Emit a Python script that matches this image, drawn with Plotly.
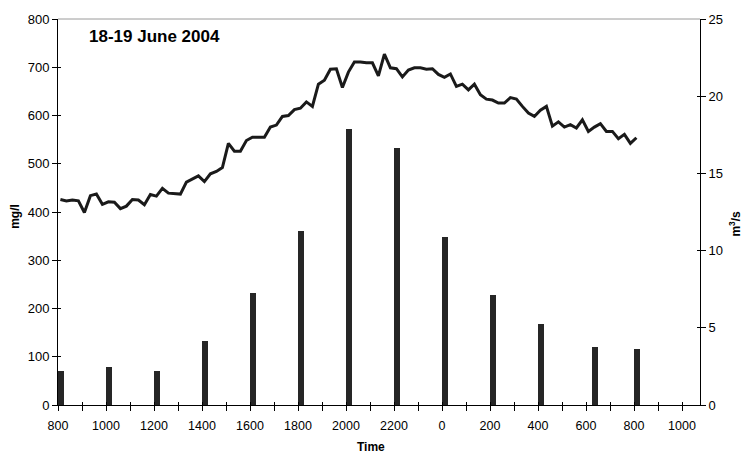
import plotly.graph_objects as go

# ---------------- data ----------------
# x-axis tick positions (hours since midnight of 18 June) and their labels
tick_hours = [8, 10, 12, 14, 16, 18, 20, 22, 24, 26, 28, 30, 32, 34]
tick_labels = ["800", "1000", "1200", "1400", "1600", "1800", "2000", "2200",
               "0", "200", "400", "600", "800", "1000"]

# sampled concentration (mg/l) - bars
sample_hours = [8.125, 10.125, 12.125, 14.125, 16.125, 18.125, 20.125, 22.125,
                24.125, 26.125, 28.125, 30.375, 32.125]
conc_mgl = [70, 78, 70, 133, 232, 360, 571, 533, 349, 228, 167, 120, 117]

# discharge (m3/s), every 15 minutes starting 08:06
flow_start_hour = 8.1
flow_step_hour = 0.25
flow_m3s = [13.31, 13.22, 13.28, 13.22, 12.47, 13.56, 13.66, 13.00, 13.16, 13.13,
            12.72, 12.88, 13.31, 13.28, 12.97, 13.63, 13.53, 14.03, 13.72, 13.69,
            13.66, 14.44, 14.63, 14.84, 14.47, 14.97, 15.13, 15.38, 16.94, 16.44,
            16.44, 17.13, 17.34, 17.34, 17.34, 18.00, 18.13, 18.69, 18.75, 19.13,
            19.22, 19.63, 19.34, 20.78, 21.03, 21.75, 21.78, 20.56, 21.56, 22.22,
            22.22, 22.16, 22.16, 21.31, 22.72, 21.84, 21.78, 21.25, 21.69, 21.84,
            21.84, 21.75, 21.78, 21.41, 21.22, 21.44, 20.63, 20.78, 20.41, 20.78,
            20.09, 19.81, 19.75, 19.56, 19.56, 19.91, 19.81, 19.34, 18.91, 18.69,
            19.09, 19.34, 18.06, 18.34, 18.00, 18.16, 17.94, 18.47, 17.72, 18.00,
            18.22, 17.72, 17.72, 17.25, 17.53, 16.94, 17.31]
flow_hours = [flow_start_hour + flow_step_hour * i for i in range(len(flow_m3s))]

x_range = [8, 34.75]
left_range = [0, 800]
right_range = [0, 25]

FONT = "Liberation Sans, Arial, Helvetica, sans-serif"

fig = go.Figure()

fig.add_trace(go.Bar(
    x=sample_hours, y=conc_mgl, width=0.26,
    marker=dict(color="#262626", line=dict(width=0)),
    xaxis="x", yaxis="y", showlegend=False, hoverinfo="x+y"))

fig.add_trace(go.Scatter(
    x=flow_hours, y=flow_m3s, mode="lines",
    line=dict(color="#1a1a1a", width=3),
    xaxis="x", yaxis="y2", showlegend=False))

# invisible helper traces so the overlay axes (inner half of cross ticks) render
fig.add_trace(go.Scatter(x=[None], y=[None], xaxis="x2", yaxis="y",
                         showlegend=False, hoverinfo="skip"))
fig.add_trace(go.Scatter(x=[None], y=[None], xaxis="x", yaxis="y3",
                         showlegend=False, hoverinfo="skip"))
fig.add_trace(go.Scatter(x=[None], y=[None], xaxis="x", yaxis="y4",
                         showlegend=False, hoverinfo="skip"))

axis_common = dict(showgrid=False, zeroline=False, showline=True,
                   linecolor="black", linewidth=1, tickcolor="black",
                   tickwidth=1)

fig.update_layout(
    width=743, height=460,
    margin=dict(l=58, r=43, t=15, b=55, pad=0),
    paper_bgcolor="white", plot_bgcolor="white",
    font=dict(family=FONT, size=12, color="black"),
    bargap=0,
    xaxis=dict(range=x_range, tickmode="array", tickvals=tick_hours,
               ticktext=tick_labels, ticks="outside", ticklen=5,
               ticklabelstandoff=4,
               minor=dict(dtick=1, tick0=8, ticks="outside", ticklen=5,
                          tickcolor="black", tickwidth=1),
               tickfont=dict(size=12.5), anchor="y", **axis_common),
    xaxis2=dict(range=x_range, overlaying="x", anchor="y", side="bottom",
                tickmode="linear", tick0=8, dtick=1, ticks="inside",
                ticklen=3, showticklabels=False, showgrid=False,
                zeroline=False, showline=False, tickcolor="black"),
    yaxis=dict(range=left_range, tickmode="linear", tick0=0, dtick=100,
               ticks="outside", ticklen=5, tickfont=dict(size=13),
               anchor="x", **axis_common),
    yaxis2=dict(range=right_range, overlaying="y", side="right", anchor="x",
                tickmode="linear", tick0=0, dtick=5, ticks="outside",
                ticklen=5, tickfont=dict(size=13), **axis_common),
    yaxis3=dict(range=left_range, overlaying="y", side="left", anchor="x",
                tickmode="linear", tick0=0, dtick=100, ticks="inside",
                ticklen=3, showticklabels=False, showgrid=False,
                zeroline=False, showline=False, tickcolor="black"),
    yaxis4=dict(range=right_range, overlaying="y", side="right", anchor="x",
                tickmode="linear", tick0=0, dtick=5, ticks="inside",
                ticklen=3, showticklabels=False, showgrid=False,
                zeroline=False, showline=False, tickcolor="black"),
)

# gray top frame line
fig.add_shape(type="line", xref="paper", yref="paper", x0=0, x1=1, y0=1, y1=1,
              line=dict(color="#9a9a9a", width=1))

# texts
fig.add_annotation(text="<b>18-19 June 2004</b>", xref="paper", yref="paper",
                   x=0.045, y=0.955, xanchor="left", yanchor="middle",
                   showarrow=False, font=dict(size=17, family=FONT))
fig.add_annotation(text="<b>mg/l</b>", xref="paper", yref="paper",
                   x=-0.067, y=0.49, xanchor="center", yanchor="middle",
                   textangle=-90, showarrow=False, font=dict(size=12, family=FONT))
fig.add_annotation(text="<b>m<sup>3</sup>/s</b>", xref="paper", yref="paper",
                   x=1.0545, y=0.47, xanchor="center", yanchor="middle",
                   textangle=-90, showarrow=False, font=dict(size=12, family=FONT))
fig.add_annotation(text="<b>Time</b>", xref="paper", yref="paper",
                   x=(371 - 58) / 642, y=-0.11, xanchor="center",
                   yanchor="middle", showarrow=False,
                   font=dict(size=12, family=FONT))

fig.write_html("out.html")
